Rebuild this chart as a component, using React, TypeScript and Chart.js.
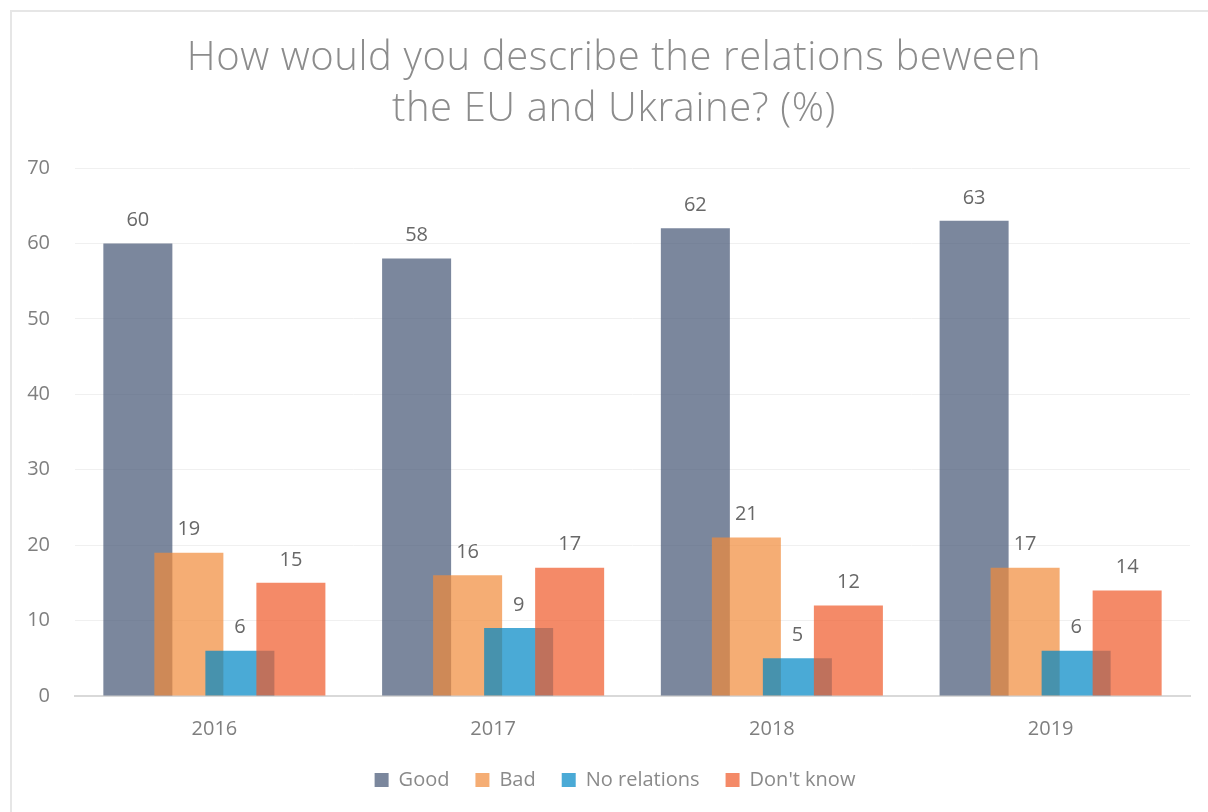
import React, { useEffect, useRef } from "react";
import { Chart, registerables } from "chart.js";

Chart.register(...registerables);

const categories = ["2016", "2017", "2018", "2019"];
const seriesNames = ["Good", "Bad", "No relations", "Don't know"];
const goodValues = [60, 58, 62, 63];
const badValues = [19, 16, 21, 17];
const noRelationsValues = [6, 9, 5, 6];
const dontKnowValues = [15, 17, 12, 14];
const titleLines = ["How would you describe the relations beween", "the EU and Ukraine? (%)"];

const seriesColors = [
  "rgba(69, 86, 117, 0.71)",
  "rgba(241, 139, 59, 0.71)",
  "rgba(0, 135, 197, 0.71)",
  "rgba(239, 90, 42, 0.71)",
];

const FONT = "'Open Sans', 'Noto Sans', sans-serif";

const titlePlugin = {
  id: "customTitle",
  afterDraw(chart: any) {
    const ctx = chart.ctx;
    ctx.save();
    ctx.fillStyle = "#8c8c8c";
    ctx.font = `300 40px ${FONT}`;
    try { (ctx as any).letterSpacing = "0.6px"; } catch (e) {}
    ctx.textAlign = "center";
    ctx.textBaseline = "middle";
    const cx = chart.width / 2 - 1;
    ctx.fillText(titleLines[0], cx, 47);
    ctx.fillText(titleLines[1], cx, 98);
    ctx.restore();
  },
};

// Draw datasets in forward order (later series on top, as in the reference),
// then draw the value labels above each bar.
const forwardDrawPlugin = {
  id: "forwardDraw",
  beforeDatasetsDraw(chart: any) {
    const ctx = chart.ctx;
    const area = chart.chartArea;
    ctx.save();
    ctx.beginPath();
    ctx.rect(area.left, area.top - 40, area.right - area.left, area.bottom - area.top + 40);
    ctx.clip();
    chart.data.datasets.forEach((_ds: any, i: number) => {
      const meta = chart.getDatasetMeta(i);
      if (meta.visible !== false && !meta.hidden) meta.controller.draw();
    });
    ctx.restore();
    return false;
  },
  afterDraw(chart: any) {
    const ctx = chart.ctx;
    ctx.save();
    ctx.fillStyle = "#686868";
    ctx.font = `20px ${FONT}`;
    ctx.textAlign = "center";
    ctx.textBaseline = "bottom";
    chart.data.datasets.forEach((ds: any, i: number) => {
      const meta = chart.getDatasetMeta(i);
      meta.data.forEach((el: any, j: number) => {
        ctx.fillText(String(ds.data[j]), el.x, el.y - 13);
      });
    });
    ctx.restore();
  },
};

export default function App() {
  const canvasRef = useRef<HTMLCanvasElement | null>(null);

  useEffect(() => {
    if (!canvasRef.current) return;
    const allValues = [goodValues, badValues, noRelationsValues, dontKnowValues];
    const chart = new Chart(canvasRef.current, {
      type: "bar",
      data: {
        labels: categories,
        datasets: seriesNames.map((name, i) => ({
          label: name,
          data: allValues[i],
          backgroundColor: seriesColors[i],
          borderWidth: 0,
          categoryPercentage: 0.732,
          barPercentage: 1.353,
          yAxisID: "y",
        })),
      },
      options: {
        animation: false,
        responsive: true,
        maintainAspectRatio: false,
        layout: { padding: { top: 156, left: 0, right: 0, bottom: 12 } },
        plugins: {
          title: { display: false },
          tooltip: { enabled: false },
          legend: {
            position: "bottom",
            labels: {
              boxWidth: 14,
              boxHeight: 14,
              padding: 26,
              color: "#8a8a8a",
              font: { family: FONT, size: 20 },
            },
          },
        },
        scales: {
          x: {
            grid: { display: false },
            border: { display: true, color: "#d9d9d9", width: 2 },
            ticks: { color: "#7f7f7f", font: { family: FONT, size: 20 }, padding: 13 },
            afterFit: (scale: any) => {
              scale.height = scale.height - 10;
            },
          },
          y: {
            min: 0,
            max: 70,
            grid: { color: "#f0f0f0", lineWidth: 1, drawTicks: false },
            border: { display: false },
            ticks: { stepSize: 10, color: "#7f7f7f", font: { family: FONT, size: 20 }, padding: 25 },
            afterFit: (scale: any) => {
              scale.width = 63;
            },
          },
          yRightSpace: {
            position: "right",
            display: true,
            min: 0,
            max: 70,
            grid: { display: false, drawTicks: false },
            border: { display: false },
            ticks: { display: false },
            afterFit: (scale: any) => {
              scale.width = 28;
            },
          },
        },
      },
      plugins: [titlePlugin, forwardDrawPlugin],
    });
    return () => chart.destroy();
  }, []);

  return (
    <div
      style={{
        position: "fixed",
        left: 10,
        top: 10,
        width: 1206,
        height: 802,
        borderLeft: "2px solid #e6e6e6",
        borderTop: "2px solid #e6e6e6",
        background: "#ffffff",
      }}
    >
      <div style={{ position: "relative", width: 1206, height: 800 }}>
        <canvas ref={canvasRef} />
      </div>
    </div>
  );
}
